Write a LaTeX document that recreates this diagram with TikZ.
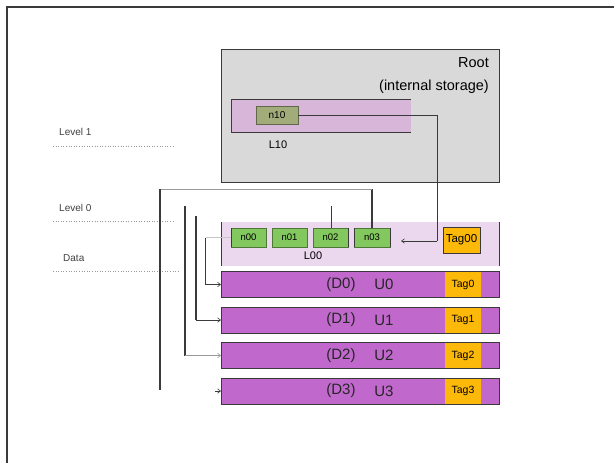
\documentclass[tikz,border=0pt]{standalone}
\usepackage{fontspec}
\setmainfont{Liberation Sans}
\usetikzlibrary{arrows.meta}
\definecolor{rootgray}{HTML}{D9D9D9}
\definecolor{lav}{HTML}{D8B6DA}
\definecolor{lavlight}{HTML}{ECD8EE}
\definecolor{olive}{HTML}{A2AC7A}
\definecolor{leafgreen}{HTML}{82C85E}
\definecolor{rowpurple}{HTML}{C068CC}
\definecolor{tagorange}{HTML}{FDB90A}
\definecolor{edge}{HTML}{3A3A3A}
\begin{document}
\begin{tikzpicture}[x=1pt,y=-1pt,
  box/.style={inner sep=0pt, outer sep=0pt, anchor=center},
  leaf/.style={box, fill=leafgreen, draw=leafgreen!60!black, line width=0.5pt, minimum height=19pt, font=\fontsize{9.5}{10}\selectfont},
  rowbox/.style={box, fill=rowpurple, draw=edge, line width=0.8pt, minimum width=278pt, minimum height=26pt},
  rowtag/.style={box, fill=tagorange, minimum width=36pt, minimum height=25pt, font=\fontsize{10.5}{11}\selectfont},
  rowtxt/.style={font=\fontsize{15}{16}\selectfont, inner sep=0pt, text=black!85},
  lvl/.style={anchor=west, font=\fontsize{10}{11}\selectfont, text=black!75, inner sep=0pt},
  dotline/.style={gray!80, dotted, line width=0.6pt},
  dark/.style={edge, line width=1.1pt},
  thin/.style={gray!80, line width=0.6pt},
  tip/.style={-{Straight Barb[length=3pt,width=4.5pt]}, line width=0.6pt, edge}
]
\useasboundingbox (0,0) rectangle (614,463);
\fill[white] (0,0) rectangle (614,463);
% frame
\draw[edge, line width=1.8pt] (7,463) -- (7,7) -- (614,7);

% level labels
\node[lvl] (lv1) at (59,132) {Level 1};
\coordinate (d1a) at (53,146); \coordinate (d1b) at (175,146);
\draw[dotline] (d1a) -- (d1b);
\node[lvl] (lv0) at (59,208) {Level 0};
\coordinate (d0a) at (53,221); \coordinate (d0b) at (175,221);
\draw[dotline] (d0a) -- (d0b);
\node[lvl] (lvd) at (63,258) {Data};
\coordinate (dda) at (53,271); \coordinate (ddb) at (178,271);
\draw[dotline] (dda) -- (ddb);

% root
\node[box, fill=rootgray, draw=edge, line width=0.9pt, minimum width=278pt, minimum height=133pt] (root) at (360,115.5) {};
\node[anchor=east, inner sep=0pt, font=\fontsize{14.5}{15}\selectfont] (roott) at (489,63) {Root};
\node[anchor=east, inner sep=0pt, font=\fontsize{14.5}{15}\selectfont] (roots) at (489,87) {(internal storage)};
\node[box, fill=lav, minimum width=180pt, minimum height=33pt] (L10box) at (321,115.5) {};
\draw[edge, line width=0.9pt] (L10box.north east) -- (L10box.north west) -- (L10box.south west) -- (L10box.south east);
\node[box, fill=olive, draw=olive!60!black, line width=0.8pt, minimum width=42pt, minimum height=18pt, font=\fontsize{10}{11}\selectfont] (n10) at (277,115) {n10};
\node[inner sep=0pt, font=\fontsize{11}{12}\selectfont] (L10) at (278,145) {L10};

% level 0
\node[box, fill=lavlight, minimum width=278pt, minimum height=44pt] (L00box) at (360,244) {};
\draw[edge, line width=0.9pt] (L00box.north west) -- (L00box.south west);
\draw[edge, line width=0.9pt] (L00box.north east) -- (L00box.south east);
\node[leaf, minimum width=35pt] (n00) at (248.5,237.5) {n00};
\node[leaf, minimum width=35pt] (n01) at (289.5,237.5) {n01};
\node[leaf, minimum width=35pt] (n02) at (330.5,237.5) {n02};
\node[leaf, minimum width=36pt] (n03) at (372,237.5) {n03};
\draw[edge, line width=1pt] (n00.north west) -- (n00.south west);
\draw[edge, line width=1pt] (n02.north east) -- (n02.south east);
\draw[edge, line width=1pt] (n03.north west) -- (n03.south west);
\draw[edge, line width=1pt] (n03.north east) -- (n03.south east);
\node[box, fill=tagorange, draw=edge, line width=0.9pt, minimum width=37pt, minimum height=26pt, font=\fontsize{11.5}{12}\selectfont] (tag00) at (461.5,240) {Tag00};
\node[inner sep=0pt, font=\fontsize{11}{12}\selectfont] (L00) at (313,256) {L00};

% data rows
\foreach \i/\y in {0/284.5,1/320,2/355.5,3/391}{
  \node[rowbox] (u\i) at (360,\y) {};
  \node[rowtag] (tag\i) at (463,\y) {Tag\i};
  \node[rowtxt] (d\i) at (341,\y) {(D\i)};
  \node[rowtxt] (ul\i) at (384,\y) {U\i};
}

% n10 -> L00
\coordinate (a1) at (437,115);
\coordinate (a2) at (437,241);
\coordinate (a3) at (401,241);
\draw[edge, line width=0.8pt] (n10.east) -- (a1) -- (a2);
\draw[tip] (a2) -- (a3);

% n03 -> U3
\coordinate (b1) at (372,189);
\coordinate (b2) at (160,189);
\coordinate (b3) at (160,390);
\draw[dark] (n03.north) -- (b1);
\draw[thin] (b1) -- (b2);
\draw[dark] (b2) -- (b3);
\coordinate (b4) at (215,391);
\draw[tip] (b4) -- (u3.west);

% n02 -> U2
\coordinate (c0) at (331,206);
\draw[edge, line width=0.8pt] (n02.north -| c0) -- (c0);
\coordinate (c1) at (185,206);
\coordinate (c2) at (185,355.5);
\draw[dark] (c1) -- (c2);
\draw[tip, thin] (c2) -- (u2.west);

% n01 -> U1
\coordinate (e1) at (196,216);
\coordinate (e2) at (196,320);
\draw[dark] (e1) -- (e2);
\draw[tip] (e2) -- (u1.west);

% n00 -> U0
\coordinate (f1) at (205.5,237.5);
\coordinate (f2) at (205.5,284.5);
\draw[gray!45, line width=0.6pt] (n00.west) -- (f1);
\draw[dark] (f1) -- (f2);
\draw[tip] (f2) -- (u0.west);
\end{tikzpicture}
\end{document}
